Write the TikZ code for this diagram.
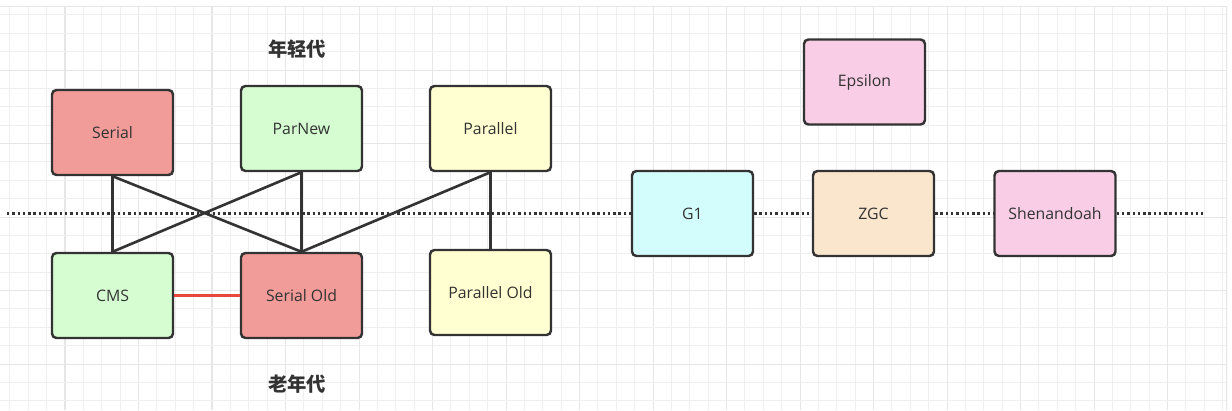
\documentclass[tikz,border=0pt]{standalone}
\usepackage{fontspec}
\setmainfont{Open Sans}
\newfontfamily\cjk{Noto Sans CJK SC}
\usetikzlibrary{positioning}
\definecolor{serialred}{HTML}{F19C99}
\definecolor{pargreen}{HTML}{D5FDD1}
\definecolor{paryellow}{HTML}{FFFFD1}
\definecolor{gonecyan}{HTML}{D3FCFC}
\definecolor{zgcpeach}{HTML}{FAE6CD}
\definecolor{expink}{HTML}{F8CDE5}
\definecolor{edge}{HTML}{333333}
\definecolor{redline}{HTML}{E8473D}
\definecolor{gridminor}{HTML}{EFEFEF}
\definecolor{gridmajor}{HTML}{E6E6E6}

\begin{document}
\begin{tikzpicture}[
    x=0.02cm, y=-0.02cm,
    gcbox/.style={rectangle, draw=edge, line width=1.4pt, minimum width=2.42cm, minimum height=1.70cm, rounded corners=2.5pt, text=edge, font=\fontsize{9}{11}\selectfont, inner sep=0pt, align=center},
    genlabel/.style={text=edge, font=\cjk\bfseries\fontsize{11}{13}\selectfont},
    link/.style={draw=edge, line width=1.5pt},
    sep/.style={draw=edge, line width=1.4pt, dash pattern=on 1.4pt off 1.6pt}
]
\useasboundingbox (0,0) rectangle (1232,410);
\fill[white] (0,0) rectangle (1232,410);

% Grid background
\begin{scope}
\clip (0,6) rectangle (1227,410);
\foreach \i in {0,...,66} {
    \pgfmathsetmacro{\gx}{9.9+18.375*\i}
    \pgfmathtruncatemacro{\maj}{mod(\i+1,4)==0}
    \ifnum\maj=1 \draw[gridmajor, line width=0.6pt] (\gx,6) -- (\gx,410);
    \else \draw[gridminor, line width=0.5pt] (\gx,6) -- (\gx,410); \fi
}
\foreach \j in {0,...,21} {
    \pgfmathsetmacro{\gy}{14.9+18.375*\j}
    \pgfmathtruncatemacro{\maj}{mod(\j+1,4)==0}
    \ifnum\maj=1 \draw[gridmajor, line width=0.6pt] (0,\gy) -- (1227,\gy);
    \else \draw[gridminor, line width=0.5pt] (0,\gy) -- (1227,\gy); \fi
}
\draw[gridmajor, line width=0.6pt] (0,6) -- (1227,6);
\draw[gridmajor, line width=0.6pt] (1227,6) -- (1227,410);
\end{scope}

% Generation labels
\node[genlabel] (young) at (297,49) {年轻代};
\node[genlabel] (old) at (297,384) {老年代};

% Young generation collectors
\node[gcbox, fill=serialred] (serial) at (112.5,132.5) {Serial};
\node[gcbox, fill=pargreen] (parnew) at (301.5,128.5) {ParNew};
\node[gcbox, fill=paryellow] (parallel) at (490.5,128.5) {Parallel};

% Old generation collectors
\node[gcbox, fill=pargreen] (cms) at (112.5,295.5) {CMS};
\node[gcbox, fill=serialred] (serialold) at (301.5,295.5) {Serial Old};
\node[gcbox, fill=paryellow] (parallelold) at (490.5,292.5) {Parallel Old};

% Whole-heap collectors
\node[gcbox, fill=expink] (epsilon) at (864.5,82) {Epsilon};
\node[gcbox, fill=gonecyan] (g1) at (692.5,213.5) {G1};
\node[gcbox, fill=zgcpeach] (zgc) at (873.5,213.5) {ZGC};
\node[gcbox, fill=expink] (shen) at (1055,213.5) {Shenandoah};

% Generation separator
\coordinate (sepL) at (7,213.5);
\coordinate (sepR) at (1203,213.5);
\draw[sep] (sepL) -- (g1.west);
\draw[sep] (g1.east) -- (zgc.west);
\draw[sep] (zgc.east) -- (shen.west);
\draw[sep] (shen.east) -- (sepR);

% Combinations
\draw[link] (serial.south) -- (cms.north);
\draw[link] (serial.south) -- (serialold.north);
\draw[link] (parnew.south) -- (cms.north);
\draw[link] (parnew.south) -- (serialold.north);
\draw[link] (parallel.south) -- (serialold.north);
\draw[link] (parallel.south) -- (parallelold.north);
\draw[link, draw=redline] (cms.east) -- (serialold.west);

\end{tikzpicture}
\end{document}
